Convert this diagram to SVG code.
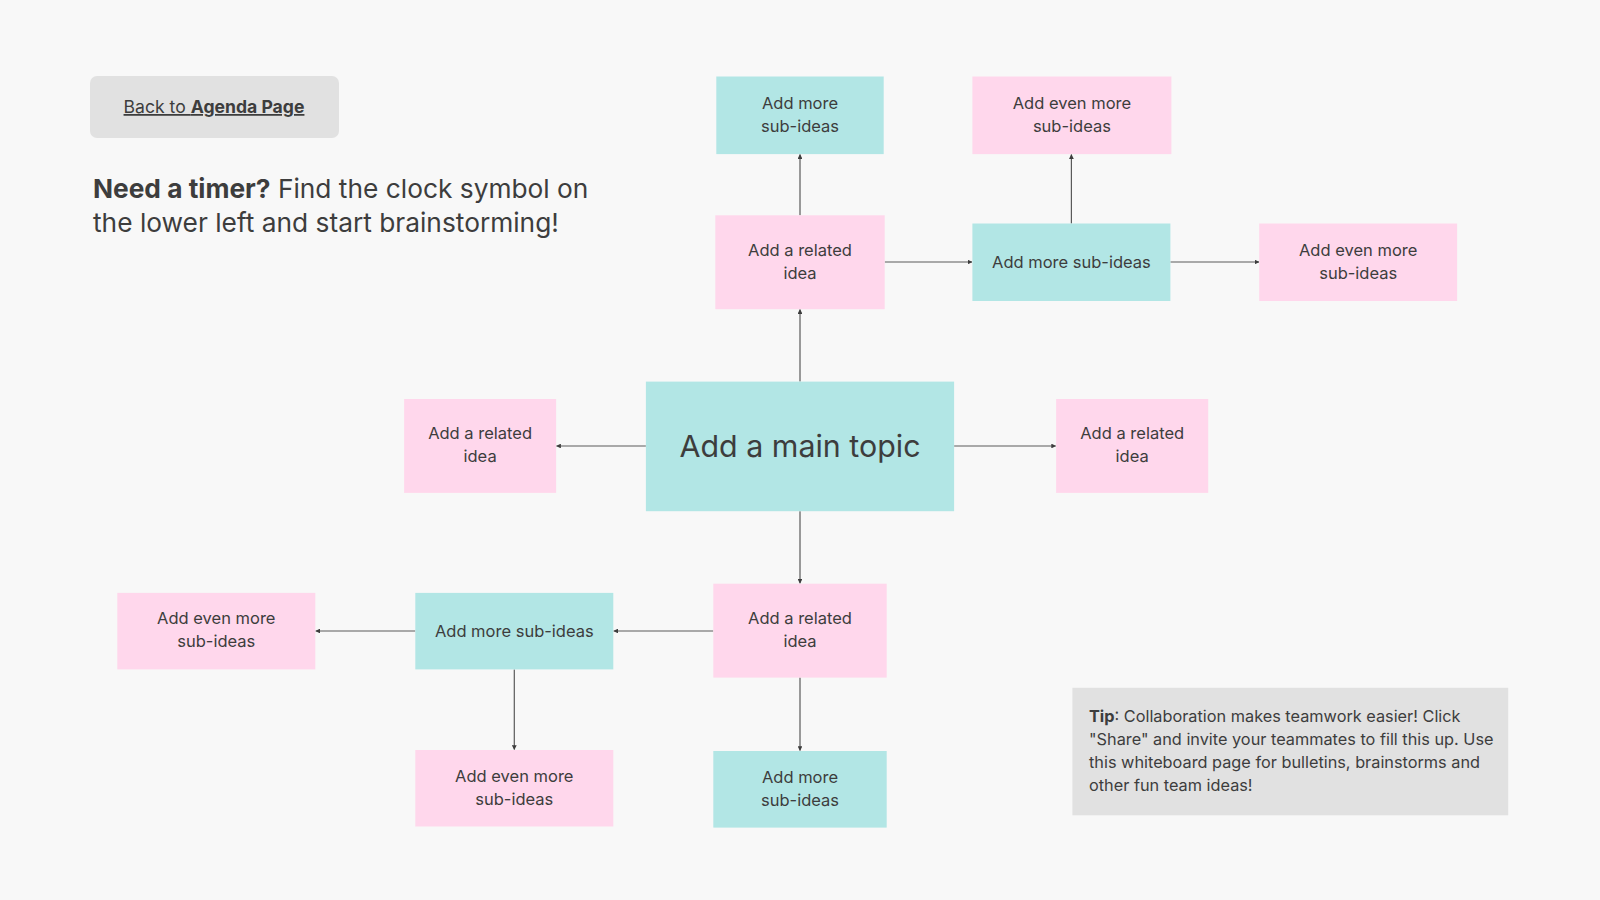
<svg xmlns="http://www.w3.org/2000/svg" width="1600" height="900" viewBox="0 0 1600 900">
<style>
text{font-family:Inter,"Liberation Sans",sans-serif;fill:#3d3d3d}
.n{font-size:16.5px;text-anchor:middle}
.teal{fill:#b2e6e5}
.pink{fill:#ffd7ec}
.c{stroke:#5a5a5a;stroke-width:1.2;fill:none;marker-end:url(#ah)}
</style>
<defs>
<marker id="ah" viewBox="0 0 6 6" refX="5.5" refY="3" markerWidth="4" markerHeight="4" orient="auto" markerUnits="strokeWidth">
<path d="M0,0 L6,3 L0,6 Z" fill="#3d3d3d"/>
</marker>
</defs>
<rect width="1600" height="900" fill="#f8f8f8"/>
<g id="back">
<rect x="90" y="76" width="249" height="62" rx="7" fill="#e1e1e1"/>
<text x="214" y="113" font-size="17.6" text-anchor="middle" text-decoration="underline">Back to <tspan font-weight="bold">Agenda Page</tspan></text>
</g>
<g id="timer">
<text x="93" y="198" font-size="26.3">
<tspan font-weight="bold">Need a timer?</tspan> Find the clock symbol on</text>
<text x="93" y="232" font-size="26.3">the lower left and start brainstorming!</text>
</g>
<g id="connectors">
<path class="c" d="M800,381.6 V309.5"/>
<path class="c" d="M800,215.3 V154.5"/>
<path class="c" d="M884.7,262 H972"/>
<path class="c" d="M1071.4,223.5 V154.5"/>
<path class="c" d="M1170.4,262 H1259"/>
<path class="c" d="M645.9,446 H556.5"/>
<path class="c" d="M954.1,446 H1055.7"/>
<path class="c" d="M800,511.2 V583.3"/>
<path class="c" d="M713.3,631 H613.7"/>
<path class="c" d="M415.3,631 H315.7"/>
<path class="c" d="M514.3,669.4 V749.6"/>
<path class="c" d="M800,677.6 V750.6"/>
</g>
<g id="n1"><rect class="teal" x="716.3" y="76.5" width="167.4" height="77.6"/><text class="n" x="800" y="108.5">Add more</text><text class="n" x="800" y="132">sub-ideas</text></g>
<g id="n2"><rect class="pink" x="972.4" y="76.5" width="199" height="77.6"/><text class="n" x="1071.9" y="108.5">Add even more</text><text class="n" x="1071.9" y="132">sub-ideas</text></g>
<g id="n3"><rect class="pink" x="715.3" y="215.3" width="169.4" height="93.9"/><text class="n" x="800" y="255.5">Add a related</text><text class="n" x="800" y="279">idea</text></g>
<g id="n4"><rect class="teal" x="972.4" y="223.5" width="198" height="77.5"/><text class="n" x="1071.4" y="268">Add more sub-ideas</text></g>
<g id="n5"><rect class="pink" x="1259.2" y="223.5" width="197.9" height="77.5"/><text class="n" x="1358.2" y="255.5">Add even more</text><text class="n" x="1358.2" y="279">sub-ideas</text></g>
<g id="main"><rect class="teal" x="645.9" y="381.6" width="308.2" height="129.6"/><text x="800" y="457" font-size="30.4" text-anchor="middle">Add a main topic</text></g>
<g id="n7"><rect class="pink" x="404.1" y="399" width="152" height="93.9"/><text class="n" x="480.1" y="438.5">Add a related</text><text class="n" x="480.1" y="462">idea</text></g>
<g id="n8"><rect class="pink" x="1056.1" y="399" width="152.1" height="93.9"/><text class="n" x="1132.2" y="438.5">Add a related</text><text class="n" x="1132.2" y="462">idea</text></g>
<g id="n9"><rect class="pink" x="713.3" y="583.7" width="173.4" height="93.9"/><text class="n" x="800" y="624">Add a related</text><text class="n" x="800" y="647">idea</text></g>
<g id="n10"><rect class="teal" x="415.3" y="592.9" width="198" height="76.5"/><text class="n" x="514.3" y="636.5">Add more sub-ideas</text></g>
<g id="n11"><rect class="pink" x="117.3" y="592.9" width="198" height="76.5"/><text class="n" x="216.3" y="624">Add even more</text><text class="n" x="216.3" y="647">sub-ideas</text></g>
<g id="n12"><rect class="pink" x="415.3" y="750" width="198" height="76.5"/><text class="n" x="514.3" y="782">Add even more</text><text class="n" x="514.3" y="805">sub-ideas</text></g>
<g id="n13"><rect class="teal" x="713.3" y="751" width="173.4" height="76.6"/><text class="n" x="800" y="782.5">Add more</text><text class="n" x="800" y="806">sub-ideas</text></g>
<g id="tip">
<rect x="1072.4" y="687.8" width="435.8" height="127.5" fill="#e1e1e1"/>
<text x="1089" y="722" font-size="16.3"><tspan font-weight="bold">Tip</tspan>: Collaboration makes teamwork easier! Click</text>
<text x="1089" y="745" font-size="16.3">"Share" and invite your teammates to fill this up. Use</text>
<text x="1089" y="768" font-size="16.3">this whiteboard page for bulletins, brainstorms and</text>
<text x="1089" y="791" font-size="16.3">other fun team ideas!</text>
</g>
</svg>
